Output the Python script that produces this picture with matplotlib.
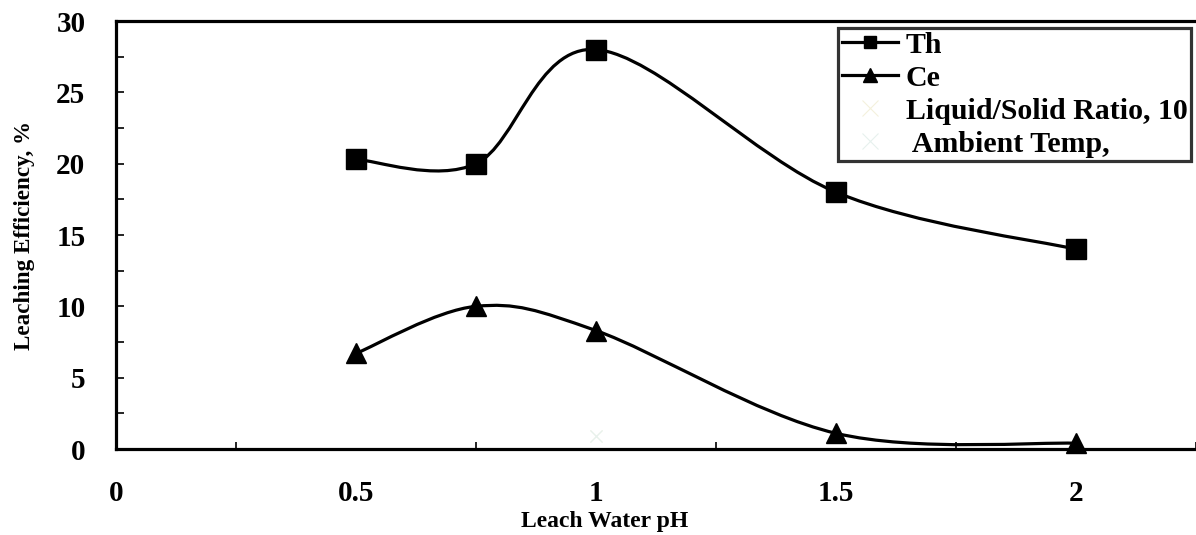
import numpy as np
import matplotlib.pyplot as plt
from matplotlib.path import Path
from matplotlib.patches import PathPatch
from matplotlib.lines import Line2D
from matplotlib.ticker import MultipleLocator

plt.rcParams['font.family'] = ['Liberation Serif', 'DejaVu Serif']
plt.rcParams['font.weight'] = 'bold'

# leach water pH
ph = [0.5, 0.75, 1.0, 1.5, 2.0]
th_eff = [20.3, 20.0, 28.0, 18.0, 14.0]
ce_eff = [6.7, 10.0, 8.3, 1.1, 0.4]
# conditions, shown as faint markers
cond_x = [1.0]
cond_y = [0.9]


def smooth_path(x, y):
    # Bezier spline through the points, tangents from neighbouring points
    pts = np.column_stack([x, y]).astype(float)
    n = len(pts)
    verts = [pts[0]]
    codes = [Path.MOVETO]
    for i in range(n - 1):
        p0 = pts[i - 1] if i > 0 else pts[i]
        p1 = pts[i]
        p2 = pts[i + 1]
        p3 = pts[i + 2] if i + 2 < n else pts[i + 1]
        c1 = p1 + (p2 - p0) / 6.0
        c2 = p2 - (p3 - p1) / 6.0
        verts += [c1, c2, p2]
        codes += [Path.CURVE4] * 3
    return Path(verts, codes)


fig = plt.figure(figsize=(11.96, 5.35), dpi=100)
ax = fig.add_axes([116 / 1196, 1 - 449 / 535, 1 - 116 / 1196, 428 / 535])

lw = 2.3
for yv, mk in [(th_eff, 's'), (ce_eff, '^')]:
    ax.add_patch(PathPatch(smooth_path(ph, yv), fill=False, edgecolor='black',
                           lw=lw, capstyle='round', joinstyle='round', zorder=3))
    ax.plot(ph, yv, linestyle='none', marker=mk, ms=14, color='black',
            clip_on=False, zorder=4)

ax.plot(cond_x, cond_y, 'x', color='#f4f1dc', ms=9, mew=0.8, zorder=2)
ax.plot(cond_x, cond_y, 'x', color='#e6f1ee', ms=9, mew=0.8, zorder=2)

ax.set_xlim(0, 2.25)
ax.set_ylim(0, 30)
ax.set_xticks([0, 0.5, 1, 1.5, 2])
ax.set_xticklabels(['0', '0.5', '1', '1.5', '2'])
ax.xaxis.set_minor_locator(MultipleLocator(0.25))
ax.yaxis.set_major_locator(MultipleLocator(5))
ax.yaxis.set_minor_locator(MultipleLocator(2.5))
ax.tick_params(axis='both', which='both', direction='in', width=1.2, labelsize=21)
ax.tick_params(axis='x', which='major', length=0, pad=22)
ax.tick_params(axis='x', which='minor', length=5)
ax.tick_params(axis='y', which='both', length=6, pad=22)
for lab in ax.get_xticklabels() + ax.get_yticklabels():
    lab.set_fontweight('bold')

for s in ['left', 'bottom', 'top']:
    ax.spines[s].set_linewidth(2.3)
ax.spines['right'].set_visible(False)

ax.set_xlabel('Leach Water pH', fontsize=17, fontweight='bold')
ax.xaxis.set_label_coords((605 - 116) / 1080, -62 / 428)
ax.set_ylabel('Leaching Efficiency, %', fontsize=16.7, fontweight='bold', labelpad=15)

handles = [
    Line2D([], [], color='black', lw=lw, marker='s', ms=9),
    Line2D([], [], color='black', lw=lw, marker='^', ms=10),
    Line2D([], [], color='#f4f1dc', lw=0, marker='x', ms=11, mew=0.8),
    Line2D([], [], color='#e6f1ee', lw=0, marker='x', ms=11, mew=0.8),
]
labels = ['Th', 'Ce', 'Liquid/Solid Ratio, 10', ' Ambient Temp,']
leg = ax.legend(handles, labels, loc='upper left',
                bbox_to_anchor=((838 - 116) / 1080, 1 - 7 / 428),
                bbox_transform=ax.transAxes, frameon=True, fancybox=False,
                prop={'family': 'Liberation Serif', 'weight': 'bold', 'size': 21.5},
                handlelength=1.9, handletextpad=0.25, labelspacing=0.2,
                borderpad=0.12, borderaxespad=0)
leg.get_frame().set_edgecolor('black')
leg.get_frame().set_linewidth(2.3)

fig.savefig('out.png', dpi=100)
